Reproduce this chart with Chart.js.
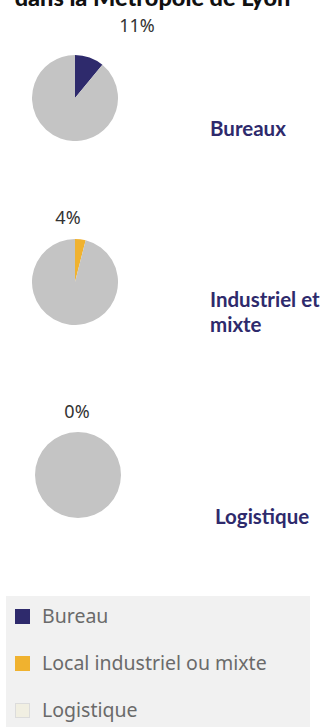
<!DOCTYPE html>
<html lang="fr">
<head>
<meta charset="utf-8">
<script src="https://cdn.jsdelivr.net/npm/chart.js@4.4.1/dist/chart.umd.min.js"></script>
<style>
  html, body { margin: 0; padding: 0; background: #fff; }
  body { width: 328px; height: 727px; position: relative; overflow: hidden; }
  .title {
    position: absolute; left: 0; width: 305px; top: -17px; text-align: center;
    font-family: Lato, sans-serif; font-weight: 900; font-size: 23.5px; color: #111;
    white-space: nowrap; line-height: 28px;
  }
  .pie { position: absolute; }
  .pct {
    position: absolute; transform: translateX(-50%);
    font-family: "Noto Sans", sans-serif; font-size: 18px; color: #333; line-height: 22px;
  }
  .cat {
    position: absolute; font-family: Lato, sans-serif; font-weight: 700;
    font-size: 20.5px; line-height: 25px; color: #2e2a6c;
  }
  .legend {
    position: absolute; left: 6px; top: 596px; width: 304px; height: 140px;
    background: #f1f1f1;
  }
  .legend .item {
    position: absolute; left: 9px; font-family: "Noto Sans", sans-serif;
    font-size: 19.5px; color: #6a6a6a; white-space: nowrap; line-height: 26px;
  }
  .legend .sw {
    display: inline-block; width: 15px; height: 15px; vertical-align: -1px;
    margin-right: 12px; box-sizing: border-box;
  }
</style>
</head>
<body>
<div class="title">dans la Métropole de Lyon</div>
<div id="charts"></div>
<div class="legend" id="legend"></div>

<script>
// parts of the market by type of premises (%)
const categories = ["Bureaux", "Industriel et mixte", "Logistique"];
const legendLabels = ["Bureau", "Local industriel ou mixte", "Logistique"];
const shares = [11, 4, 0];
const colors = ["#2e2a6c", "#f0b22f", "#f1efe2"];
const restColor = "#c4c4c4";

// where each pie, its % label and its name sit on the page
const layout = [
  { cx: 75, cy: 98, pctX: 137, pctY: 14, catX: 210, catY: 116, catW: 118 },
  { cx: 75, cy: 282, pctX: 68, pctY: 206, catX: 210, catY: 287, catW: 118 },
  { cx: 78, cy: 475, pctX: 77, pctY: 400, catX: 215, catY: 504, catW: 113 }
];
const R = 43;

const holder = document.getElementById("charts");

categories.forEach((cat, i) => {
  const pos = layout[i];

  const canvas = document.createElement("canvas");
  canvas.className = "pie";
  canvas.width = R * 2;
  canvas.height = R * 2;
  canvas.style.left = (pos.cx - R) + "px";
  canvas.style.top = (pos.cy - R) + "px";
  holder.appendChild(canvas);

  new Chart(canvas.getContext("2d"), {
    type: "pie",
    data: {
      labels: [cat, "Autres"],
      datasets: [{
        data: [shares[i], 100 - shares[i]],
        backgroundColor: [colors[i], restColor],
        borderWidth: 0
      }]
    },
    options: {
      responsive: false,
      animation: false,
      layout: { padding: 0 },
      plugins: { legend: { display: false }, tooltip: { enabled: false } }
    }
  });

  const pct = document.createElement("div");
  pct.className = "pct";
  pct.textContent = shares[i] + "%";
  pct.style.left = pos.pctX + "px";
  pct.style.top = pos.pctY + "px";
  holder.appendChild(pct);

  const name = document.createElement("div");
  name.className = "cat";
  name.textContent = cat;
  name.style.left = pos.catX + "px";
  name.style.top = pos.catY + "px";
  name.style.width = pos.catW + "px";
  holder.appendChild(name);
});

// legend box
const legend = document.getElementById("legend");
legendLabels.forEach((lbl, i) => {
  const item = document.createElement("div");
  item.className = "item";
  item.style.top = (7 + i * 47) + "px";
  const sw = document.createElement("span");
  sw.className = "sw";
  sw.style.background = colors[i];
  if (i === 2) sw.style.border = "1px solid #dcdcdc";
  item.appendChild(sw);
  item.appendChild(document.createTextNode(lbl));
  legend.appendChild(item);
});
</script>
</body>
</html>
